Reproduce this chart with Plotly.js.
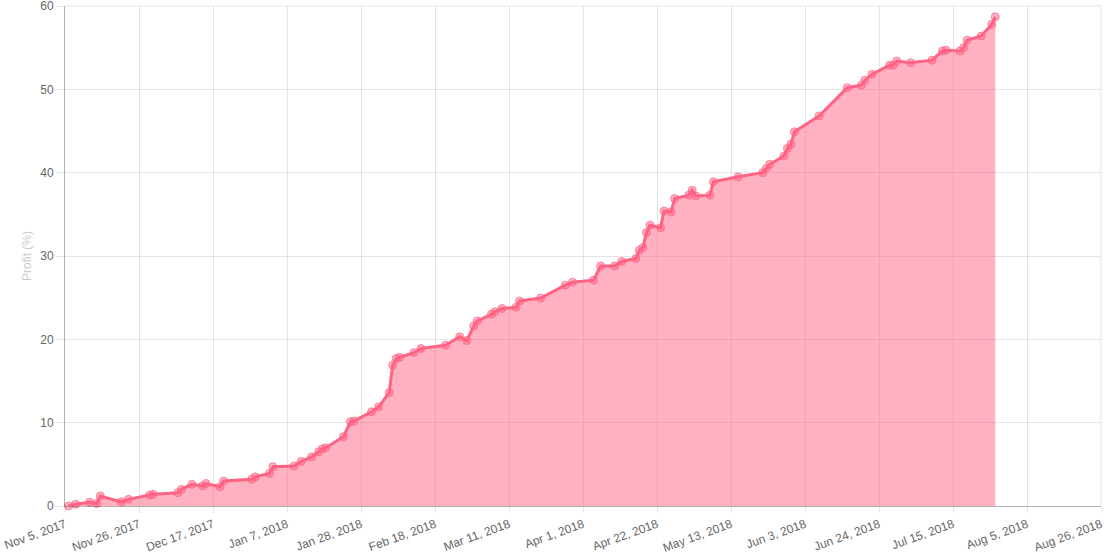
<!DOCTYPE html>
<html>
<head>
<meta charset="utf-8">
<script src="https://cdn.plot.ly/plotly-3.0.1.min.js"></script>
<style>
  html, body { margin: 0; padding: 0; background: #fff; }
  #chart { width: 1110px; height: 555px; }
</style>
</head>
<body>
<div id="chart"></div>
<script>
const dates = [
  "2017-11-06","2017-11-08","2017-11-12","2017-11-14","2017-11-15","2017-11-21","2017-11-23","2017-11-29","2017-11-30",
  "2017-12-07","2017-12-08","2017-12-11","2017-12-14","2017-12-15","2017-12-19","2017-12-20","2017-12-28","2017-12-29",
  "2018-01-02","2018-01-03","2018-01-09","2018-01-11","2018-01-14","2018-01-16","2018-01-17","2018-01-18","2018-01-23",
  "2018-01-25","2018-01-26","2018-01-31","2018-02-02","2018-02-05","2018-02-06","2018-02-07","2018-02-08","2018-02-12",
  "2018-02-14","2018-02-21","2018-02-25","2018-02-27","2018-03-01","2018-03-02","2018-03-06","2018-03-07","2018-03-09",
  "2018-03-13","2018-03-14","2018-03-20","2018-03-27","2018-03-29","2018-04-04","2018-04-06","2018-04-10","2018-04-12",
  "2018-04-16","2018-04-17","2018-04-18","2018-04-19","2018-04-20","2018-04-23","2018-04-24","2018-04-26","2018-04-27",
  "2018-05-01","2018-05-02","2018-05-03","2018-05-07","2018-05-08","2018-05-15","2018-05-22","2018-05-23","2018-05-24",
  "2018-05-28","2018-05-29","2018-05-30","2018-05-31","2018-06-07","2018-06-15","2018-06-19","2018-06-20","2018-06-22",
  "2018-06-27","2018-06-28","2018-06-29","2018-07-03","2018-07-09","2018-07-12","2018-07-13","2018-07-17","2018-07-18",
  "2018-07-19","2018-07-23","2018-07-26","2018-07-27"
];
const profit = [
  0.0, 0.2, 0.45, 0.3, 1.2, 0.5, 0.8, 1.3, 1.4,
  1.6, 2.0, 2.6, 2.4, 2.7, 2.3, 3.0, 3.2, 3.5,
  3.9, 4.7, 4.8, 5.35, 5.9, 6.5, 6.85, 7.0, 8.3,
  10.1, 10.2, 11.3, 11.9, 13.6, 16.9, 17.7, 17.85, 18.4,
  18.9, 19.3, 20.3, 19.85, 21.6, 22.2, 23.0, 23.3, 23.7,
  23.85, 24.6, 24.95, 26.5, 26.85, 27.1, 28.8, 28.8, 29.35,
  29.7, 30.7, 31.0, 32.8, 33.7, 33.4, 35.4, 35.3, 36.9,
  37.3, 37.9, 37.2, 37.3, 38.9, 39.5, 40.0, 40.5, 41.0,
  42.0, 42.9, 43.4, 44.9, 46.8, 50.2, 50.5, 51.1, 51.8,
  52.9, 52.9, 53.4, 53.2, 53.5, 54.6, 54.7, 54.6, 55.0,
  55.9, 56.4, 57.8, 58.7
];
const xRange = ["2017-11-05", "2018-08-26"];
const yTicks = [0, 10, 20, 30, 40, 50, 60];
const yTitle = "Profit (%)";

const trace = {
  x: dates,
  y: profit,
  type: "scatter",
  mode: "lines+markers",
  fill: "tozeroy",
  fillcolor: "rgba(255,99,132,0.5)",
  line: { color: "rgb(255,99,132)", width: 3 },
  marker: { size: 8, color: "rgba(255,99,132,0.5)", line: { color: "rgba(255,99,132,0.7)", width: 1 } },
  cliponaxis: false,
  hoverinfo: "x+y"
};

const gridColor = "rgba(0,0,0,0.1)";
const layout = {
  width: 1110, height: 555,
  margin: { l: 65, r: 9, t: 6, b: 49 },
  paper_bgcolor: "#fff", plot_bgcolor: "#fff",
  showlegend: false,
  font: { family: "Liberation Sans, Arial, Helvetica, sans-serif", size: 12, color: "#666" },
  xaxis: {
    type: "date",
    range: xRange,
    tick0: "2017-11-05",
    dtick: 21 * 86400000,
    tickformat: "%b %-d, %Y",
    tickangle: -20,
    showgrid: true, gridcolor: gridColor, gridwidth: 1,
    ticks: "outside", ticklen: 6, tickcolor: gridColor,
    showline: true, linecolor: "rgba(0,0,0,0.3)", linewidth: 1,
    zeroline: false,
    ticklabeloverflow: "allow",
    tickfont: { size: 12, color: "#666" }
  },
  yaxis: {
    range: [0, 60],
    tickvals: yTicks,
    showgrid: true, gridcolor: gridColor, gridwidth: 1,
    ticks: "outside", ticklen: 8, tickcolor: gridColor,
    showline: true, linecolor: "rgba(0,0,0,0.3)", linewidth: 1,
    zeroline: false,
    ticklabeloverflow: "allow",
    tickfont: { size: 12, color: "#666" },
    title: { text: yTitle, font: { size: 12, color: "#ccc" }, standoff: 6 }
  },
  shapes: [
    { type: "line", xref: "paper", yref: "paper", x0: 0, x1: 1, y0: 1, y1: 1, line: { color: gridColor, width: 1 }, layer: "below" },
    { type: "line", xref: "paper", yref: "paper", x0: 1, x1: 1, y0: 0, y1: 1, line: { color: gridColor, width: 1 }, layer: "below" }
  ]
};

Plotly.newPlot("chart", [trace], layout, { displayModeBar: false, staticPlot: true });
</script>
</body>
</html>
